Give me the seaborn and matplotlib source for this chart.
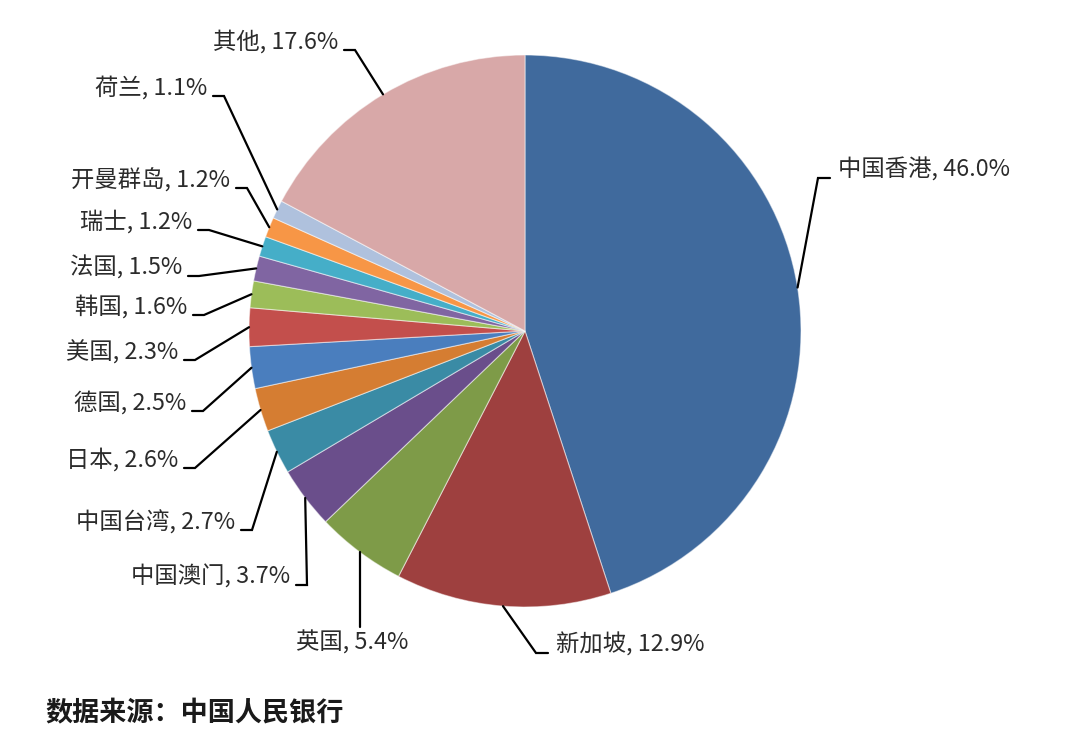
import numpy as np
import pandas as pd
import seaborn as sns
import matplotlib.pyplot as plt

sns.set_theme(style="white")
plt.rcParams["font.family"] = ["Noto Sans CJK SC", "DejaVu Sans"]

# 数据
regions = ["中国香港", "新加坡", "英国", "中国澳门", "中国台湾", "日本", "德国",
           "美国", "韩国", "法国", "瑞士", "开曼群岛", "荷兰", "其他"]
shares = [46.0, 12.9, 5.4, 3.7, 2.7, 2.6, 2.5, 2.3, 1.6, 1.5, 1.2, 1.2, 1.1, 17.6]
colors = ["#406A9D", "#9E403F", "#7E9B48", "#6A4E8B", "#3A8BA5", "#D57D32", "#4A7EBE",
          "#C34F4C", "#9CBD59", "#8065A2", "#45AEC8", "#F79646", "#AFC1DD", "#D8A8A8"]

# 标签位置 (像素, 从上往下), 对齐方式
label_x = [838, 556, 352, 290, 235, 178, 186, 178, 187, 182, 192, 230, 207, 338]
label_y = [170, 645, 643, 577, 522, 460, 403, 352, 307, 268, 222, 180, 88, 42]
label_ha = ["left", "left", "center", "right", "right", "right", "right",
            "right", "right", "right", "right", "right", "right", "right"]

W, H = 1080, 750
cx, cy, r = 525, H - 331, 276

fig = plt.figure(figsize=(10.8, 7.5), dpi=100)
ax = fig.add_axes([0, 0, 1, 1])

wedges, _ = ax.pie(shares, colors=colors, startangle=90, counterclock=False,
                   center=(cx, cy), radius=r,
                   wedgeprops=dict(edgecolor=(1, 1, 1, 0.5), linewidth=0.8))

for w, name, v, tx, ty, ha in zip(wedges, regions, shares, label_x, label_y, label_ha):
    ang = np.deg2rad((w.theta1 + w.theta2) / 2)
    ex = cx + r * np.cos(ang)
    ey = cy + r * np.sin(ang)
    ty_up = H - ty
    if ha == "center":
        ax.plot([ex, ex], [ey, ty_up + 16], color="black", lw=1.6)
    else:
        sy = ty_up - 8
        if ha == "right":
            x_end, x_elb = tx + 6, tx + 17
        else:
            x_end, x_elb = tx - 8, tx - 20
        ax.plot([ex, x_elb, x_end], [ey, sy, sy], color="black", lw=1.6,
                solid_joinstyle="miter")
    ax.text(tx, ty_up, f"{name}, {v:.1f}%", ha=ha, va="center",
            fontsize=16.8, color="#2b2b2b")

ax.text(45, H - 713, "数据来源：中国人民银行", ha="left", va="center",
        fontsize=19.5, fontweight="bold", color="#1a1a1a")

ax.set_xlim(0, W)
ax.set_ylim(0, H)
ax.set_aspect("equal")
ax.axis("off")

fig.savefig("out.png", dpi=100, facecolor="white")
